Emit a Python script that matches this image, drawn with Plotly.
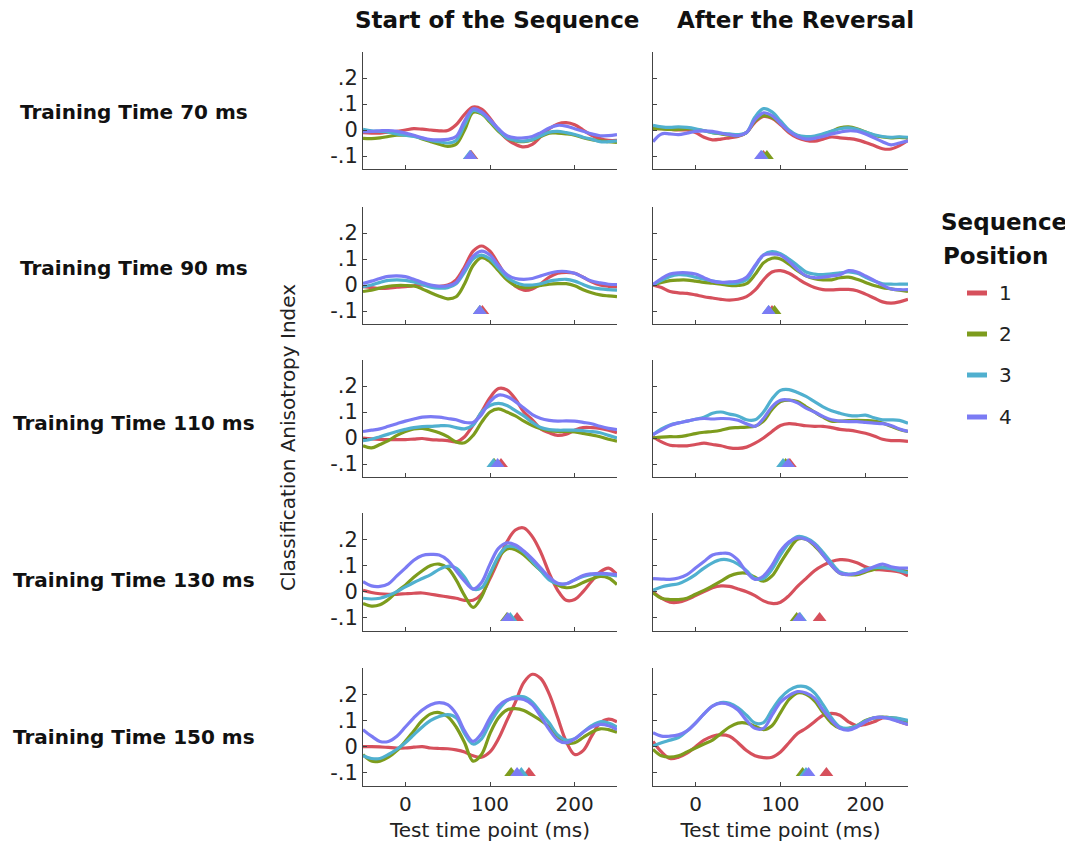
import plotly.graph_objects as go

# ---------------- data ----------------
T = list(range(-50, 251, 10))  # test time points (ms)
POSITIONS = ["1", "2", "3", "4"]
COLUMN_TITLES = ["Start of the Sequence", "After the Reversal"]
ROW_LABELS = ["Training Time 70 ms", "Training Time 90 ms", "Training Time 110 ms",
              "Training Time 130 ms", "Training Time 150 ms"]
X_TICKS = [0, 100, 200]
Y_TICKS = [-0.1, 0, 0.1, 0.2]
Y_TICK_TEXT = ["-.1", "0", ".1", ".2"]

# Start of the sequence, training time 70 ms
start70_p1 = [-0.01, -0.012, -0.012, -0.008, -0.005, 0.0, 0.005, 0.003, 0.0, -0.003, -0.002, 0.02, 0.06, 0.088, 0.08, 0.045, 0.0, -0.035, -0.055, -0.065, -0.055, -0.025, 0.005, 0.023, 0.028, 0.02, 0.0, -0.02, -0.033, -0.04, -0.04]
start70_p2 = [-0.032, -0.033, -0.03, -0.025, -0.02, -0.02, -0.022, -0.035, -0.045, -0.055, -0.063, -0.055, 0.0, 0.068, 0.062, 0.03, -0.005, -0.03, -0.042, -0.045, -0.038, -0.025, -0.012, -0.012, -0.015, -0.02, -0.03, -0.037, -0.042, -0.045, -0.048]
start70_p3 = [0.003, -0.003, -0.005, -0.008, -0.015, -0.02, -0.025, -0.032, -0.04, -0.045, -0.05, -0.04, 0.02, 0.075, 0.065, 0.035, 0.0, -0.03, -0.04, -0.043, -0.037, -0.022, -0.008, -0.005, -0.01, -0.017, -0.028, -0.035, -0.045, -0.045, -0.042]
start70_p4 = [-0.006, -0.005, -0.003, -0.002, -0.005, -0.012, -0.02, -0.03, -0.037, -0.038, -0.036, -0.025, 0.035, 0.082, 0.07, 0.04, 0.005, -0.022, -0.03, -0.03, -0.025, -0.01, 0.008, 0.018, 0.015, 0.005, -0.005, -0.015, -0.022, -0.022, -0.018]
start70_peak = [78, 77, 76, 77]

# After the reversal, training time 70 ms
rev70_p1 = [0.006, 0.005, 0.003, 0.0, 0.0, -0.01, -0.028, -0.038, -0.035, -0.03, -0.025, -0.01, 0.03, 0.052, 0.045, 0.02, -0.01, -0.03, -0.04, -0.043, -0.035, -0.027, -0.03, -0.033, -0.038, -0.048, -0.06, -0.072, -0.073, -0.06, -0.04]
rev70_p2 = [0.006, 0.004, 0.002, 0.002, 0.005, 0.002, -0.003, -0.01, -0.015, -0.02, -0.022, -0.01, 0.035, 0.055, 0.048, 0.025, -0.005, -0.022, -0.03, -0.028, -0.018, -0.005, 0.008, 0.012, 0.005, -0.008, -0.02, -0.027, -0.03, -0.028, -0.03]
rev70_p3 = [0.018, 0.012, 0.01, 0.012, 0.01, 0.005, -0.003, -0.01, -0.013, -0.015, -0.018, -0.01, 0.05, 0.082, 0.07, 0.035, 0.0, -0.02, -0.025, -0.023, -0.015, -0.005, 0.005, 0.008, 0.003, -0.008, -0.018, -0.025, -0.028, -0.026, -0.028]
rev70_p4 = [-0.045, -0.015, -0.015, -0.018, -0.012, -0.005, -0.003, -0.005, -0.012, -0.018, -0.022, -0.01, 0.04, 0.066, 0.055, 0.025, -0.005, -0.025, -0.035, -0.032, -0.025, -0.015, -0.008, -0.003, -0.005, -0.015, -0.03, -0.045, -0.057, -0.05, -0.042]
rev70_peak = [80, 84, 78, 77]

# Start of the sequence, training time 90 ms
start90_p1 = [-0.006, -0.01, -0.013, -0.012, -0.008, -0.006, -0.003, 0.0, -0.003, -0.005, 0.0, 0.02, 0.07, 0.13, 0.15, 0.13, 0.08, 0.03, -0.005, -0.02, -0.015, 0.005, 0.03, 0.045, 0.048, 0.045, 0.03, 0.012, 0.0, -0.005, -0.007]
start90_p2 = [-0.025, -0.02, -0.012, -0.005, -0.002, -0.002, -0.004, -0.015, -0.03, -0.043, -0.053, -0.045, 0.005, 0.075, 0.105, 0.09, 0.055, 0.02, -0.003, -0.01, -0.008, -0.002, 0.003, 0.005, 0.005, -0.003, -0.018, -0.03, -0.038, -0.042, -0.045]
start90_p3 = [-0.006, 0.0, 0.01, 0.018, 0.02, 0.018, 0.012, 0.002, -0.008, -0.012, -0.01, 0.005, 0.05, 0.1, 0.115, 0.1, 0.065, 0.03, 0.01, 0.0, 0.0, 0.005, 0.015, 0.02, 0.022, 0.015, 0.002, -0.01, -0.015, -0.018, -0.02]
start90_p4 = [0.006, 0.015, 0.025, 0.033, 0.035, 0.032, 0.022, 0.01, 0.0, -0.005, -0.003, 0.01, 0.06, 0.11, 0.13, 0.115, 0.075, 0.04, 0.025, 0.022, 0.025, 0.035, 0.045, 0.052, 0.052, 0.045, 0.03, 0.015, 0.008, 0.003, 0.002]
start90_peak = [91, 88, 88, 88]

# After the reversal, training time 90 ms
rev90_p1 = [0.0, -0.01, -0.025, -0.03, -0.032, -0.038, -0.045, -0.05, -0.055, -0.058, -0.055, -0.045, -0.02, 0.02, 0.05, 0.055, 0.045, 0.025, 0.005, -0.01, -0.018, -0.019, -0.017, -0.017, -0.022, -0.035, -0.05, -0.065, -0.07, -0.065, -0.055]
rev90_p2 = [0.0, 0.01, 0.017, 0.019, 0.019, 0.015, 0.01, 0.007, 0.003, -0.002, -0.002, 0.005, 0.04, 0.085, 0.103, 0.1, 0.08, 0.055, 0.035, 0.024, 0.02, 0.02, 0.028, 0.03, 0.022, 0.01, -0.002, -0.01, -0.015, -0.02, -0.025]
rev90_p3 = [0.0, 0.018, 0.033, 0.04, 0.038, 0.03, 0.022, 0.015, 0.01, 0.006, 0.008, 0.02, 0.07, 0.115, 0.128, 0.12, 0.1, 0.075, 0.05, 0.042, 0.04, 0.043, 0.047, 0.05, 0.045, 0.03, 0.015, 0.005, 0.003, 0.003, 0.003]
rev90_p4 = [0.002, 0.025, 0.042, 0.047, 0.047, 0.042, 0.028, 0.015, 0.01, 0.012, 0.015, 0.03, 0.075, 0.115, 0.12, 0.115, 0.09, 0.06, 0.035, 0.028, 0.03, 0.035, 0.04, 0.055, 0.05, 0.035, 0.018, 0.0, -0.015, -0.018, -0.018]
rev90_peak = [90, 93, 86, 86]

# Start of the sequence, training time 110 ms
start110_p1 = [0.0, -0.003, -0.005, -0.006, -0.006, -0.006, -0.004, -0.002, -0.006, -0.008, -0.01, -0.015, 0.005, 0.05, 0.1, 0.155, 0.19, 0.185, 0.15, 0.1, 0.07, 0.035, 0.02, 0.01, 0.015, 0.03, 0.04, 0.04, 0.037, 0.03, 0.02]
start110_p2 = [-0.03, -0.038, -0.025, -0.01, 0.01, 0.025, 0.035, 0.037, 0.03, 0.02, 0.005, -0.015, -0.018, 0.01, 0.06, 0.1, 0.112, 0.1, 0.085, 0.065, 0.048, 0.036, 0.028, 0.025, 0.025, 0.023, 0.018, 0.012, 0.005, -0.005, -0.012]
start110_p3 = [-0.01, -0.005, 0.005, 0.015, 0.025, 0.033, 0.04, 0.044, 0.045, 0.047, 0.047, 0.04, 0.035, 0.05, 0.1, 0.125, 0.133, 0.125, 0.105, 0.085, 0.06, 0.04, 0.032, 0.03, 0.03, 0.03, 0.028, 0.025, 0.02, 0.01, 0.0]
start110_p4 = [0.025, 0.03, 0.035, 0.045, 0.055, 0.065, 0.073, 0.08, 0.082, 0.08, 0.075, 0.07, 0.06, 0.06, 0.09, 0.14, 0.165, 0.16, 0.14, 0.115, 0.09, 0.075, 0.068, 0.065, 0.066, 0.065, 0.06, 0.055, 0.045, 0.037, 0.032]
start110_peak = [113, 105, 104, 109]

# After the reversal, training time 110 ms
rev110_p1 = [0.006, -0.015, -0.028, -0.03, -0.03, -0.025, -0.02, -0.025, -0.03, -0.038, -0.04, -0.035, -0.02, 0.0, 0.025, 0.048, 0.055, 0.052, 0.047, 0.045, 0.045, 0.04, 0.033, 0.03, 0.025, 0.018, 0.008, -0.005, -0.01, -0.01, -0.013]
rev110_p2 = [0.0, 0.003, 0.005, 0.005, 0.01, 0.017, 0.022, 0.025, 0.03, 0.038, 0.04, 0.042, 0.045, 0.065, 0.11, 0.14, 0.146, 0.14, 0.12, 0.1, 0.08, 0.065, 0.065, 0.067, 0.068, 0.067, 0.065, 0.058, 0.045, 0.033, 0.025]
rev110_p3 = [0.013, 0.035, 0.05, 0.058, 0.065, 0.072, 0.08, 0.095, 0.1, 0.092, 0.085, 0.07, 0.07, 0.1, 0.15, 0.183, 0.186, 0.175, 0.16, 0.14, 0.12, 0.105, 0.095, 0.087, 0.085, 0.088, 0.078, 0.07, 0.07, 0.068, 0.057]
rev110_p4 = [0.013, 0.03, 0.048, 0.058, 0.065, 0.072, 0.075, 0.073, 0.075, 0.074, 0.068, 0.055, 0.045, 0.075, 0.12, 0.145, 0.146, 0.135, 0.115, 0.1, 0.083, 0.07, 0.065, 0.063, 0.063, 0.06, 0.057, 0.055, 0.048, 0.035, 0.025]
rev110_peak = [111, 106, 103, 109]

# Start of the sequence, training time 130 ms
start130_p1 = [0.005, -0.003, -0.008, -0.01, -0.01, -0.008, -0.006, -0.005, -0.01, -0.015, -0.02, -0.025, -0.033, -0.033, -0.01, 0.05, 0.12, 0.19, 0.235, 0.243, 0.21, 0.15, 0.07, 0.005, -0.033, -0.03, 0.0, 0.04, 0.075, 0.09, 0.065]
start130_p2 = [-0.045, -0.055, -0.05, -0.03, 0.0, 0.025, 0.055, 0.08, 0.1, 0.105, 0.09, 0.045, -0.015, -0.06, -0.02, 0.06, 0.13, 0.163, 0.16, 0.14, 0.11, 0.08, 0.05, 0.025, 0.015, 0.02, 0.035, 0.048, 0.058, 0.052, 0.027]
start130_p3 = [-0.025, -0.028, -0.025, -0.015, 0.0, 0.018, 0.035, 0.05, 0.065, 0.085, 0.097, 0.09, 0.055, 0.01, 0.015, 0.07, 0.135, 0.172, 0.17, 0.15, 0.115, 0.08, 0.045, 0.03, 0.03, 0.045, 0.058, 0.065, 0.067, 0.065, 0.06]
start130_p4 = [0.038, 0.022, 0.02, 0.03, 0.06, 0.09, 0.12, 0.138, 0.142, 0.14, 0.12, 0.08, 0.04, 0.01, 0.035, 0.105, 0.165, 0.186, 0.178, 0.155, 0.125, 0.09, 0.055, 0.032, 0.03, 0.045, 0.062, 0.068, 0.07, 0.068, 0.065]
start130_peak = [132, 120, 124, 121]

# After the reversal, training time 130 ms
rev130_p1 = [0.0, -0.025, -0.04, -0.04, -0.03, -0.015, 0.0, 0.015, 0.022, 0.02, 0.01, 0.0, -0.015, -0.035, -0.045, -0.04, -0.015, 0.02, 0.05, 0.08, 0.1, 0.115, 0.122, 0.12, 0.11, 0.095, 0.085, 0.083, 0.08, 0.075, 0.06]
rev130_p2 = [-0.004, -0.025, -0.03, -0.03, -0.025, -0.01, 0.005, 0.022, 0.04, 0.06, 0.07, 0.07, 0.055, 0.04, 0.06, 0.11, 0.16, 0.2, 0.2, 0.175, 0.14, 0.1, 0.07, 0.065, 0.065, 0.075, 0.085, 0.093, 0.09, 0.085, 0.075]
rev130_p3 = [0.005, 0.018, 0.025, 0.03, 0.045, 0.065, 0.09, 0.11, 0.122, 0.12, 0.105, 0.08, 0.05, 0.05, 0.085, 0.14, 0.185, 0.21, 0.205, 0.185, 0.15, 0.11, 0.075, 0.067, 0.07, 0.085, 0.092, 0.092, 0.088, 0.08, 0.072]
rev130_p4 = [0.05, 0.048, 0.047, 0.052, 0.065, 0.09, 0.115, 0.14, 0.146, 0.145, 0.12, 0.075, 0.047, 0.06, 0.1, 0.155, 0.19, 0.205, 0.2, 0.18, 0.14, 0.1, 0.07, 0.065, 0.07, 0.08, 0.095, 0.105, 0.095, 0.09, 0.09]
rev130_peak = [146, 119, 123, 122]

# Start of the sequence, training time 150 ms
start150_p1 = [0.0, 0.0, -0.001, -0.003, -0.005, -0.005, -0.002, 0.0, -0.005, -0.007, -0.008, -0.012, -0.02, -0.035, -0.04, -0.02, 0.03, 0.1, 0.17, 0.245, 0.276, 0.26, 0.2, 0.11, 0.02, -0.03, -0.015, 0.04, 0.09, 0.105, 0.095]
start150_p2 = [-0.03, -0.055, -0.055, -0.04, -0.015, 0.02, 0.06, 0.1, 0.125, 0.13, 0.115, 0.075, 0.015, -0.055, -0.03, 0.05, 0.11, 0.14, 0.145, 0.138, 0.12, 0.1, 0.075, 0.04, 0.015, 0.015, 0.035, 0.055, 0.068, 0.065, 0.055]
start150_p3 = [-0.035, -0.045, -0.045, -0.03, -0.01, 0.015, 0.045, 0.075, 0.1, 0.115, 0.122, 0.11, 0.05, 0.01, 0.03, 0.09, 0.14, 0.175, 0.19, 0.19, 0.17, 0.13, 0.09, 0.045, 0.025, 0.03, 0.055, 0.08, 0.095, 0.09, 0.075]
start150_p4 = [0.065, 0.04, 0.02, 0.02, 0.04, 0.075, 0.11, 0.14, 0.16, 0.168, 0.16, 0.125, 0.06, 0.02, 0.05, 0.11, 0.155, 0.178, 0.183, 0.18, 0.16, 0.115, 0.065, 0.025, 0.015, 0.03, 0.055, 0.075, 0.085, 0.08, 0.065]
start150_peak = [146, 125, 137, 132]

# After the reversal, training time 150 ms
rev150_p1 = [0.02, -0.02, -0.045, -0.04, -0.025, 0.0, 0.025, 0.04, 0.045, 0.04, 0.015, -0.015, -0.035, -0.042, -0.04, -0.02, 0.015, 0.05, 0.07, 0.095, 0.12, 0.127, 0.12, 0.095, 0.08, 0.085, 0.095, 0.11, 0.11, 0.095, 0.085]
rev150_p2 = [-0.01, -0.035, -0.04, -0.035, -0.02, -0.005, 0.01, 0.025, 0.05, 0.075, 0.09, 0.09, 0.078, 0.065, 0.08, 0.13, 0.18, 0.205, 0.2, 0.175, 0.13, 0.09, 0.07, 0.07, 0.08, 0.1, 0.11, 0.113, 0.11, 0.105, 0.095]
rev150_p3 = [0.003, 0.015, 0.025, 0.035, 0.06, 0.09, 0.125, 0.155, 0.168, 0.165, 0.148, 0.12, 0.09, 0.092, 0.14, 0.185, 0.215, 0.23, 0.228, 0.205, 0.16, 0.11, 0.075, 0.07, 0.08, 0.098, 0.11, 0.112, 0.11, 0.107, 0.1]
rev150_p4 = [0.053, 0.04, 0.04, 0.045, 0.06, 0.09, 0.125, 0.155, 0.166, 0.16, 0.14, 0.1, 0.07, 0.07, 0.12, 0.17, 0.195, 0.21, 0.205, 0.185, 0.14, 0.1, 0.07, 0.063, 0.075, 0.095, 0.11, 0.112, 0.105, 0.095, 0.085]
rev150_peak = [154, 126, 130, 133]

# ---------------- styling ----------------
COLORS = ["#d6505c", "#7d9c1d", "#50b0cf", "#7b7bf4"]
FONT = "DejaVu Sans"
W, H = 1073, 849
OFF = 8  # page body margin


def px_x(x):
    return (x - OFF) / W


def px_y(y):
    return 1 - (y - OFF) / H


panels = [
    [([start70_p1, start70_p2, start70_p3, start70_p4], start70_peak),
     ([rev70_p1, rev70_p2, rev70_p3, rev70_p4], rev70_peak)],
    [([start90_p1, start90_p2, start90_p3, start90_p4], start90_peak),
     ([rev90_p1, rev90_p2, rev90_p3, rev90_p4], rev90_peak)],
    [([start110_p1, start110_p2, start110_p3, start110_p4], start110_peak),
     ([rev110_p1, rev110_p2, rev110_p3, rev110_p4], rev110_peak)],
    [([start130_p1, start130_p2, start130_p3, start130_p4], start130_peak),
     ([rev130_p1, rev130_p2, rev130_p3, rev130_p4], rev130_peak)],
    [([start150_p1, start150_p2, start150_p3, start150_p4], start150_peak),
     ([rev150_p1, rev150_p2, rev150_p3, rev150_p4], rev150_peak)],
]

col_px = [(363, 617), (653, 908)]
row_px = [(52, 169), (207, 324), (360, 477), (513, 631), (668, 786)]

fig = go.Figure()
layout = {}
for r in range(5):
    for c in range(2):
        k = r * 2 + c + 1
        xs = "" if k == 1 else str(k)
        series, peaks = panels[r][c]
        for i in range(4):
            fig.add_trace(go.Scatter(
                x=T, y=series[i], mode="lines",
                line=dict(color=COLORS[i], width=3.2, shape="spline", smoothing=1.0),
                xaxis="x" + xs, yaxis="y" + xs, showlegend=False, hoverinfo="skip"))
        for i in range(4):
            fig.add_trace(go.Scatter(
                x=[peaks[i]], y=[-0.1], mode="markers",
                marker=dict(symbol="triangle-up", size=12, color=COLORS[i], line=dict(width=0)),
                xaxis="x" + xs, yaxis="y" + xs, showlegend=False, cliponaxis=False, hoverinfo="skip"))
        x0, x1 = col_px[c]
        y0, y1 = row_px[r]
        layout["xaxis" + xs] = dict(
            domain=[px_x(x0), px_x(x1)], anchor="y" + xs, range=[-50, 250],
            tickvals=X_TICKS, ticks="inside", ticklen=4, tickcolor="#444",
            showticklabels=(r == 4), showline=True, linecolor="#444", linewidth=1,
            showgrid=False, zeroline=False, tickfont=dict(family=FONT, size=20, color="#222"),
            title=dict(text="Test time point (ms)" if r == 4 else "",
                       font=dict(family=FONT, size=20, color="#222"), standoff=7),
        )
        layout["yaxis" + xs] = dict(
            domain=[px_y(y1), px_y(y0)], anchor="x" + xs, range=[-0.15, 0.3],
            tickvals=Y_TICKS, ticktext=Y_TICK_TEXT, ticks="inside", ticklen=4, tickcolor="#444",
            showticklabels=(c == 0), showline=True, linecolor="#444", linewidth=1,
            showgrid=False, zeroline=False, tickfont=dict(family=FONT, size=21, color="#222"),
        )

annotations = []
# column titles
for c, title in enumerate(COLUMN_TITLES):
    annotations.append(dict(text="<b>" + title + "</b>", x=px_x([497, 795][c]), y=px_y(20),
                            xref="paper", yref="paper", showarrow=False, xanchor="center", yanchor="middle",
                            font=dict(family=FONT, size=23, color="#111")))
# row labels
for r, lab in enumerate(ROW_LABELS):
    cy = [112, 268, 423, 580, 737][r]
    annotations.append(dict(text="<b>" + lab + "</b>", x=px_x(134), y=px_y(cy),
                            xref="paper", yref="paper", showarrow=False, xanchor="center", yanchor="middle",
                            font=dict(family=FONT, size=20, color="#111")))
# y axis title
annotations.append(dict(text="Classification Anisotropy Index", x=px_x(288), y=px_y(437), textangle=-90,
                        xref="paper", yref="paper", showarrow=False, xanchor="center", yanchor="middle",
                        font=dict(family=FONT, size=20, color="#222")))
# legend
annotations.append(dict(text="<b>Sequence</b>", x=px_x(939), y=px_y(222), xref="paper", yref="paper",
                        showarrow=False, xanchor="left", yanchor="middle",
                        font=dict(family=FONT, size=23, color="#111")))
annotations.append(dict(text="<b>Position</b>", x=px_x(941), y=px_y(256), xref="paper", yref="paper",
                        showarrow=False, xanchor="left", yanchor="middle",
                        font=dict(family=FONT, size=23, color="#111")))
shapes = []
for i, p in enumerate(POSITIONS):
    ly = [293, 334, 375, 417][i]
    shapes.append(dict(type="line", xref="paper", yref="paper", x0=px_x(967), x1=px_x(987),
                       y0=px_y(ly), y1=px_y(ly), line=dict(color=COLORS[i], width=5)))
    annotations.append(dict(text=p, x=px_x(997), y=px_y(ly), xref="paper", yref="paper", showarrow=False,
                            xanchor="left", yanchor="middle", font=dict(family=FONT, size=20, color="#222")))

fig.update_layout(
    width=W, height=H, margin=dict(l=0, r=0, t=0, b=0),
    plot_bgcolor="white", paper_bgcolor="white",
    annotations=annotations, shapes=shapes, showlegend=False, **layout)

fig.write_html("out.html")
